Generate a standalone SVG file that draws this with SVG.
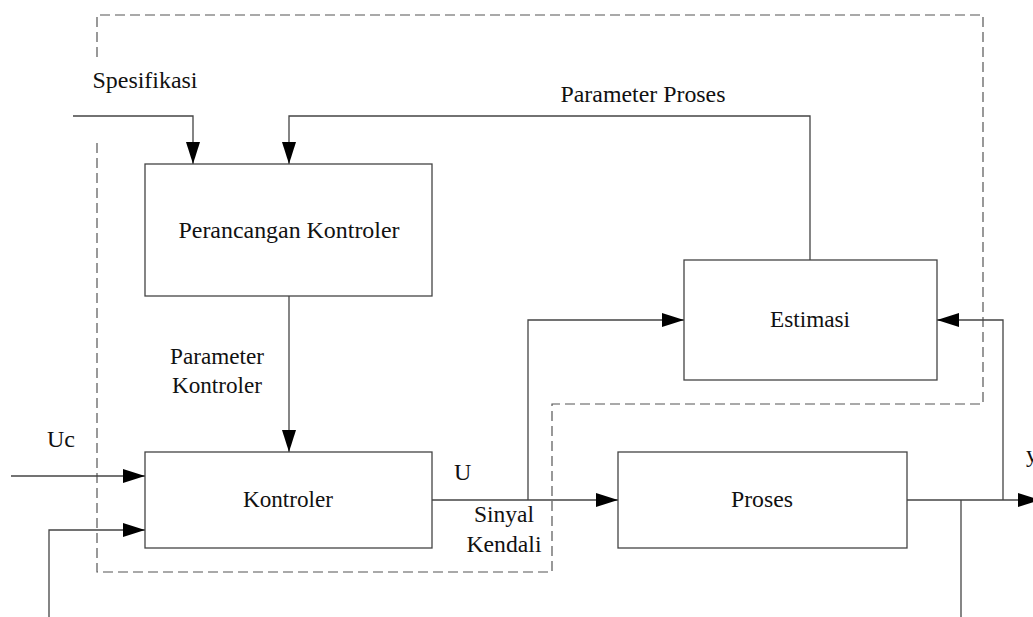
<svg xmlns="http://www.w3.org/2000/svg" width="1033" height="617" viewBox="0 0 1033 617">
<style>
.box{fill:#fff;stroke:#444;stroke-width:1.3}
.ln{fill:none;stroke:#444;stroke-width:1.3}
.dash{fill:none;stroke:#555;stroke-width:1.2;stroke-dasharray:10 5}
.t{font-family:'Liberation Serif',serif;font-size:24px;fill:#111}
.c{text-anchor:middle}
</style>
<defs>
<marker id="ah" markerUnits="userSpaceOnUse" markerWidth="22" markerHeight="14" refX="22" refY="7" orient="auto">
<path d="M0,0 L22,7 L0,14 z" fill="#000"/>
</marker>
</defs>
<rect width="1033" height="617" fill="#fff"/>
<g id="boundary">
<path class="dash" d="M97,57 L97,15 L983,15 L983,404 L552,404 L552,572 L97,572 L97,140"/>
</g>
<g id="connectors">
<path class="ln" d="M73,116 L193,116 L193,164" marker-end="url(#ah)"/>
<path class="ln" d="M810,260 L810,116 L289,116 L289,164" marker-end="url(#ah)"/>
<path class="ln" d="M289,296 L289,452" marker-end="url(#ah)"/>
<path class="ln" d="M11,476 L145,476" marker-end="url(#ah)"/>
<path class="ln" d="M49,617 L49,530 L145,530" marker-end="url(#ah)"/>
<path class="ln" d="M432,500 L618,500" marker-end="url(#ah)"/>
<path class="ln" d="M528,500 L528,320 L684,320" marker-end="url(#ah)"/>
<path class="ln" d="M907,500 L1040,500" marker-end="url(#ah)"/>
<path class="ln" d="M961,500 L961,617"/>
<path class="ln" d="M1003,500 L1003,320 L937,320" marker-end="url(#ah)"/>
</g>
<g id="perancangan">
<rect class="box" x="145" y="164" width="287" height="132"/>
<text class="t c" x="289" y="238" textLength="221" lengthAdjust="spacingAndGlyphs">Perancangan Kontroler</text>
</g>
<g id="kontroler">
<rect class="box" x="145" y="452" width="287" height="96"/>
<text class="t c" x="288" y="507" textLength="90" lengthAdjust="spacingAndGlyphs">Kontroler</text>
</g>
<g id="estimasi">
<rect class="box" x="684" y="260" width="253" height="120"/>
<text class="t c" x="810" y="327" textLength="80" lengthAdjust="spacingAndGlyphs">Estimasi</text>
</g>
<g id="proses">
<rect class="box" x="618" y="452" width="289" height="96"/>
<text class="t c" x="762" y="507" textLength="62" lengthAdjust="spacingAndGlyphs">Proses</text>
</g>
<g id="labels">
<text class="t c" x="145" y="88" textLength="105" lengthAdjust="spacingAndGlyphs">Spesifikasi</text>
<text class="t c" x="643" y="102" textLength="165" lengthAdjust="spacingAndGlyphs">Parameter Proses</text>
<text class="t c" x="217" y="364" textLength="94" lengthAdjust="spacingAndGlyphs">Parameter</text>
<text class="t c" x="217" y="393" textLength="90" lengthAdjust="spacingAndGlyphs">Kontroler</text>
<text class="t" x="47" y="447">Uc</text>
<text class="t" x="454" y="480">U</text>
<text class="t c" x="504" y="522" textLength="60" lengthAdjust="spacingAndGlyphs">Sinyal</text>
<text class="t c" x="504" y="552" textLength="75" lengthAdjust="spacingAndGlyphs">Kendali</text>
<text class="t" x="1026" y="462">y</text>
</g>
</svg>
